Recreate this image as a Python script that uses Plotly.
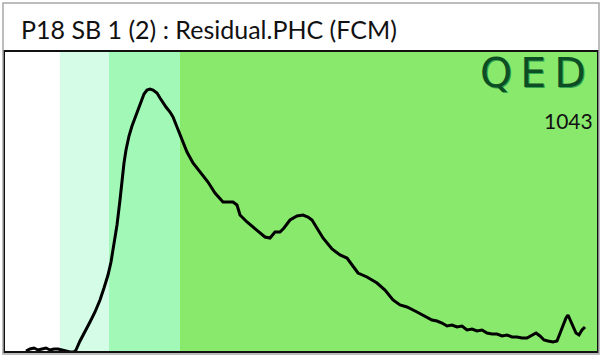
import plotly.graph_objects as go

# Chromatogram trace (retention position, detector response)
trace_x = [22, 26, 30, 34, 38, 42, 46, 50, 54, 58, 62, 66, 70, 72, 76, 81, 86, 91, 96, 100,
           104, 107, 110, 113, 116, 118, 120, 122, 125, 128, 131, 134, 137, 140, 143, 146, 149, 153, 156, 159,
           162, 166, 169, 173, 178, 183, 189, 196, 204, 211, 219, 224, 229, 233, 236, 243, 249, 256, 261, 266,
           271, 276, 280, 286, 293, 299, 304, 308, 314, 319, 328, 336, 343, 348, 354, 363, 373, 381, 389, 396,
           403, 413, 421, 428, 433, 438, 443, 448, 453, 458, 463, 468, 473, 478, 483, 488, 493, 498, 503, 508,
           513, 518, 523, 527, 532, 536, 540, 544, 549, 553, 557, 562, 564, 568, 572, 575, 578, 581]
trace_y = [1, 3, 4, 2, 3, 4, 2, 3, 3, 2, 1, 0, 0, 2, 11, 20, 30, 40, 52, 64,
           77, 90, 107, 127, 152, 172, 189, 202, 216, 226, 234, 244, 252, 258, 262, 263, 262, 259, 254, 249,
           245, 240, 235, 225, 212, 200, 189, 180, 170, 159, 150, 150, 150, 147, 137, 130, 125, 119, 115, 114,
           120, 120, 124, 132, 136, 137, 135, 132, 122, 114, 103, 97, 94, 87, 79, 75, 69, 62, 52, 47,
           45, 40, 36, 32, 31, 29, 26, 27, 25, 26, 22, 23, 21, 22, 19, 18, 18, 16, 17, 15,
           15, 14, 14, 16, 19, 16, 12, 11, 10, 11, 22, 34, 37, 28, 19, 17, 22, 25]

# Fraction bands (start, end) along the x axis
band_starts = [0, 56, 105, 176]
band_ends = [56, 105, 176, 594]
band_colors = ["#ffffff", "#d5fce7", "#a2f9b7", "#89e96c"]

x_range = [0, 594]
y_range = [0, 301]

title_text = "P18 SB 1 (2) : Residual.PHC (FCM)"
logo_text = "QED"
count_text = "1043"

fig = go.Figure()

shapes = []
for x0, x1, c in zip(band_starts, band_ends, band_colors):
    shapes.append(dict(type="rect", xref="x", yref="paper", x0=x0, x1=x1, y0=0, y1=1,
                       fillcolor=c, line=dict(width=0), layer="below"))
# plot frame
shapes.append(dict(type="rect", xref="paper", yref="paper", x0=0, x1=1, y0=0, y1=1,
                   line=dict(color="#111111", width=2), layer="above"))
# outer gray frame
shapes.append(dict(type="rect", xref="paper", yref="paper", x0=-1/594, x1=595/594,
                   y0=-2/301, y1=349/301, line=dict(color="#a8a8a8", width=1.5), layer="above"))

fig.add_trace(go.Scatter(x=trace_x, y=trace_y, mode="lines",
                         line=dict(color="#000000", width=3), hoverinfo="skip", showlegend=False))

fig.update_layout(
    width=602, height=356,
    margin=dict(l=4, r=4, t=51, b=4),
    paper_bgcolor="#ffffff", plot_bgcolor="#ffffff",
    shapes=shapes,
    xaxis=dict(range=x_range, visible=False, fixedrange=True),
    yaxis=dict(range=y_range, visible=False, fixedrange=True),
    annotations=[
        dict(text=title_text, xref="paper", yref="paper", x=(19-4)/594, y=(352-29)/301,
             xanchor="left", yanchor="middle", showarrow=False,
             font=dict(family="Lato", size=25, color="#111111")),
        dict(text='<span style="letter-spacing:8px">' + logo_text + '</span>', xref="paper", yref="paper",
             x=(478-4)/594, y=(352-73)/301, xanchor="left", yanchor="middle", showarrow=False,
             font=dict(family="DejaVu Sans", size=41, color="#0d4d24",
                       shadow="1px 1px 0 #2fa34f")),
        dict(text=count_text, xref="paper", yref="paper", x=(595-4)/594, y=(352-121)/301,
             xanchor="right", yanchor="middle", showarrow=False,
             font=dict(family="Lato", size=21, color="#111111")),
    ],
)

fig.write_html("out.html", config={"displayModeBar": False},
               post_script="document.body.style.margin='0';document.body.style.overflow='hidden';")
